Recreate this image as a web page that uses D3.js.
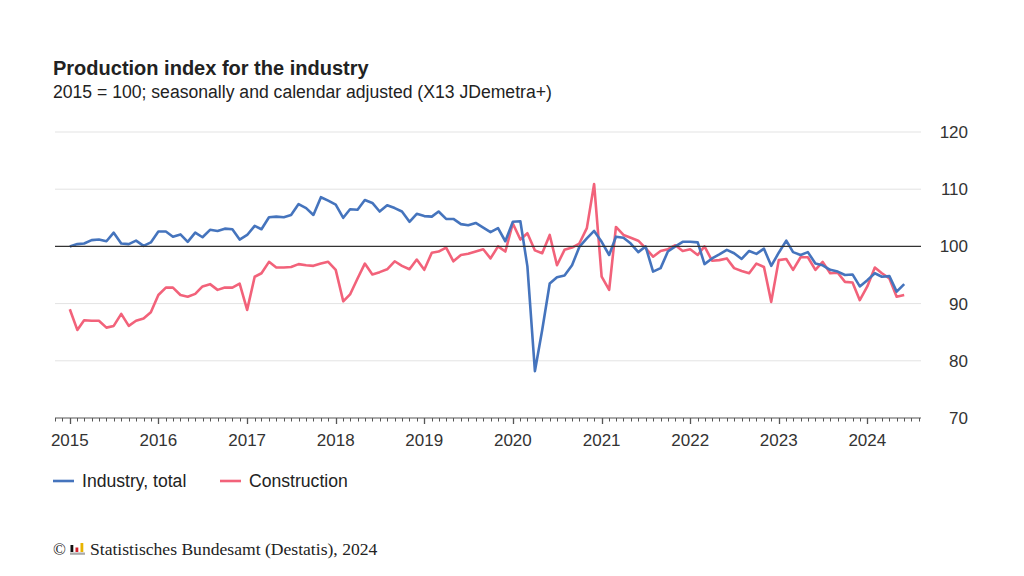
<!DOCTYPE html>
<html><head><meta charset="utf-8">
<script src="https://cdn.jsdelivr.net/npm/d3@7"></script>
<style>
html,body{margin:0;padding:0;background:#fff;}
svg{display:block;font-family:"Liberation Sans",Arial,sans-serif;}
</style></head>
<body>
<svg id="chart" width="1024" height="576"></svg>
<script>
const title = "Production index for the industry";
const subtitle = "2015 = 100; seasonally and calendar adjusted (X13 JDemetra+)";
const seriesNames = ["Industry, total", "Construction"];
const startMonth = "2015-01";
const yTicks = [70, 80, 90, 100, 110, 120];
const yearTicks = [2015, 2016, 2017, 2018, 2019, 2020, 2021, 2022, 2023, 2024];

const industry = [
100.0,100.4,100.5,101.1,101.2,100.9,102.4,100.5,100.4,101.0,100.1,100.7,
102.6,102.6,101.7,102.1,100.8,102.4,101.6,102.9,102.7,103.1,103.0,101.2,
102.0,103.6,103.0,105.1,105.2,105.1,105.5,107.4,106.7,105.5,108.6,108.0,
107.3,105.0,106.5,106.4,108.1,107.6,106.1,107.2,106.7,106.1,104.3,105.7,
105.3,105.2,106.1,104.8,104.8,103.9,103.7,104.1,103.3,102.5,103.2,100.9,
104.3,104.4,96.5,78.2,85.4,93.5,94.6,94.9,96.7,99.9,101.4,102.7,
100.8,98.5,101.7,101.5,100.5,99.0,100.0,95.6,96.2,99.1,100.0,100.8,
100.8,100.7,96.9,97.9,98.6,99.4,98.8,97.8,99.2,98.7,99.6,96.6,
98.9,101.0,99.0,98.5,99.0,97.0,96.7,95.9,95.6,95.0,95.1,93.0,
94.1,95.3,94.7,94.8,92.1,93.4];

const construction = [
89.0,85.4,87.1,87.0,87.0,85.8,86.1,88.2,86.1,87.0,87.4,88.5,
91.5,92.8,92.8,91.5,91.2,91.7,93.0,93.4,92.4,92.8,92.8,93.5,
88.9,94.7,95.3,97.3,96.3,96.3,96.4,96.9,96.7,96.6,97.0,97.3,
95.9,90.4,91.6,94.4,97.0,95.1,95.5,96.0,97.4,96.6,96.0,97.7,
95.9,98.9,99.1,99.8,97.4,98.5,98.7,99.1,99.5,97.9,100.0,99.1,
104.0,101.2,102.3,99.3,98.8,102.0,96.7,99.4,99.8,100.5,103.2,110.9,
94.7,92.4,103.4,102.0,101.5,101.0,99.7,98.2,99.2,99.5,100.2,99.2,
99.5,98.5,100.0,97.5,97.6,97.9,96.2,95.7,95.3,97.0,96.4,90.3,
97.6,97.8,95.9,98.1,98.1,95.9,97.3,95.3,95.4,93.8,93.7,90.6,
93.0,96.3,95.3,94.4,91.2,91.5];

const colors = ["#4574bd", "#f2627a"];

const svg = d3.select("#chart");
const parse = d3.timeParse("%Y-%m");
const t0 = parse(startMonth);
const dates = d3.range(industry.length).map(i => d3.timeMonth.offset(t0, i));

const x = d3.scaleTime()
  .domain([d3.timeMonth.offset(t0, -2), d3.timeMonth.offset(t0, industry.length + 1)])
  .range([55, 919]);
const y = d3.scaleLinear().domain([70, 120]).range([418, 132]);

// gridlines
svg.append("g").selectAll("line").data(yTicks.filter(v => v !== 70 && v !== 100)).join("line")
  .attr("x1", 55).attr("x2", 921)
  .attr("y1", d => y(d)).attr("y2", d => y(d))
  .attr("stroke", "#e3e3e3").attr("stroke-width", 1);

// y labels (right)
svg.append("g").selectAll("text").data(yTicks).join("text")
  .attr("x", 968).attr("y", d => y(d)).attr("dy", "0.35em")
  .attr("text-anchor", "end").attr("font-size", 17).attr("fill", "#333")
  .text(d => d);

// x axis
const months = d3.timeMonth.range(x.domain()[0], d3.timeDay.offset(x.domain()[1], 1));
const axisG = svg.append("g");
axisG.append("line").attr("x1", 55).attr("x2", 921).attr("y1", 418).attr("y2", 418)
  .attr("stroke", "#555").attr("stroke-width", 1);
axisG.selectAll("line.tick").data(months).join("line").attr("class", "tick")
  .attr("x1", d => Math.round(x(d)) + 0.5).attr("x2", d => Math.round(x(d)) + 0.5)
  .attr("y1", 418).attr("y2", d => d.getMonth() === 0 ? 424 : 421.5)
  .attr("stroke", "#555").attr("stroke-width", d => d.getMonth() === 0 ? 1.3 : 1);
axisG.selectAll("text").data(yearTicks).join("text")
  .attr("x", d => x(new Date(d, 0, 1))).attr("y", 446)
  .attr("text-anchor", "middle").attr("font-size", 17).attr("fill", "#333")
  .attr("font-family", "'Liberation Sans Narrow','Arial Narrow','Liberation Sans',sans-serif")
  .text(d => d);

// lines
const line = d3.line().x((d, i) => x(dates[i])).y(d => y(d));
[construction, industry].forEach((s, k) => {
  svg.append("path").datum(s)
    .attr("d", line)
    .attr("fill", "none")
    .attr("stroke", k === 0 ? colors[1] : colors[0])
    .attr("stroke-width", 2.6)
    .attr("stroke-linejoin", "round");
});

// 100 reference line
svg.append("line").attr("x1", 55).attr("x2", 921).attr("y1", y(100)).attr("y2", y(100))
  .attr("stroke", "#333").attr("stroke-width", 1.3);

// titles
svg.append("text").attr("x", 53).attr("y", 75).attr("font-size", 20)
  .attr("font-weight", "bold").attr("fill", "#222").text(title);
svg.append("text").attr("x", 53).attr("y", 98).attr("font-size", 17.6)
  .attr("fill", "#222").text(subtitle);

// legend
const legX = [53, 220];
seriesNames.forEach((n, i) => {
  svg.append("line").attr("x1", legX[i]).attr("x2", legX[i] + 21)
    .attr("y1", 481).attr("y2", 481).attr("stroke", colors[i]).attr("stroke-width", 2.6);
  svg.append("text").attr("x", legX[i] + 29).attr("y", 481).attr("dy", "0.35em")
    .attr("font-size", 17.6).attr("fill", "#222").text(n);
});

// footer
const foot = svg.append("g");
foot.append("text").attr("x", 53).attr("y", 555).attr("font-family", "'Liberation Serif','Times New Roman',serif")
  .attr("font-size", 17).attr("fill", "#222").text("©");
foot.append("rect").attr("x", 70.5).attr("y", 545).attr("width", 2.8).attr("height", 7).attr("fill", "#111");
foot.append("rect").attr("x", 75.5).attr("y", 547.5).attr("width", 2.8).attr("height", 4.5).attr("fill", "#d6202a");
foot.append("rect").attr("x", 80.5).attr("y", 543).attr("width", 2.8).attr("height", 9).attr("fill", "#e8b400");
foot.append("rect").attr("x", 70).attr("y", 552.5).attr("width", 15).attr("height", 2.3).attr("fill", "#aaa");
foot.append("text").attr("x", 90).attr("y", 555).attr("font-family", "'Liberation Serif','Times New Roman',serif")
  .attr("font-size", 17.6).attr("fill", "#222").text("Statistisches Bundesamt (Destatis), 2024");
</script>
</body></html>
